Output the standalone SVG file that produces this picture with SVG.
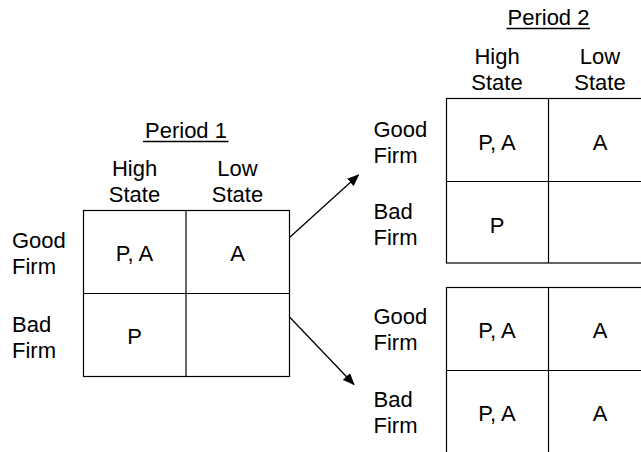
<svg xmlns="http://www.w3.org/2000/svg" width="641" height="452" viewBox="0 0 641 452">
<style>
text{font-family:"Liberation Sans",Arial,Helvetica,sans-serif;font-size:22px;fill:#000}
.c{text-anchor:middle}
.grid{fill:none;stroke:#000;stroke-width:1.2}
.ul{stroke:#000;stroke-width:1.3}
.arrow{stroke:#000;stroke-width:1.3;fill:none;marker-end:url(#ah)}
</style>
<defs>
<marker id="ah" viewBox="0 0 12 10" refX="11" refY="5" markerWidth="12" markerHeight="10" markerUnits="userSpaceOnUse" orient="auto">
<path d="M0,0 L12,5 L0,10 Z" fill="#000"/>
</marker>
</defs>
<rect width="641" height="452" fill="#fff"/>

<g id="period1">
<text class="c" x="186" y="138">Period 1</text>
<line class="ul" x1="143" y1="141.5" x2="228.5" y2="141.5"/>
<text class="c" x="134.5" y="176">High</text>
<text class="c" x="134.5" y="202">State</text>
<text class="c" x="237.5" y="176">Low</text>
<text class="c" x="237.5" y="202">State</text>
<text x="12" y="248">Good</text>
<text x="12" y="274">Firm</text>
<text x="12" y="331.5">Bad</text>
<text x="12" y="357.5">Firm</text>
<rect class="grid" x="83.5" y="210.5" width="206" height="166"/>
<line class="grid" x1="186" y1="210.5" x2="186" y2="376.5"/>
<line class="grid" x1="83.5" y1="293.5" x2="289.5" y2="293.5"/>
<text class="c" x="134.5" y="261">P, A</text>
<text class="c" x="237.5" y="261">A</text>
<text class="c" x="134.5" y="344">P</text>
</g>

<g id="period2-top">
<text class="c" x="548.5" y="25">Period 2</text>
<line class="ul" x1="506.5" y1="28.5" x2="590" y2="28.5"/>
<text class="c" x="497" y="63.5">High</text>
<text class="c" x="497" y="90">State</text>
<text class="c" x="600" y="63.5">Low</text>
<text class="c" x="600" y="90">State</text>
<text x="373.5" y="136.5">Good</text>
<text x="373.5" y="162.5">Firm</text>
<text x="373.5" y="219">Bad</text>
<text x="373.5" y="245">Firm</text>
<rect class="grid" x="446.5" y="98.5" width="206" height="164.5"/>
<line class="grid" x1="548.5" y1="98.5" x2="548.5" y2="263"/>
<line class="grid" x1="446.5" y1="181.5" x2="652.5" y2="181.5"/>
<text class="c" x="497" y="150">P, A</text>
<text class="c" x="600" y="150">A</text>
<text class="c" x="497" y="233">P</text>
</g>

<g id="period2-bottom">
<text x="373.5" y="324">Good</text>
<text x="373.5" y="350">Firm</text>
<text x="373.5" y="407">Bad</text>
<text x="373.5" y="433">Firm</text>
<rect class="grid" x="446.5" y="287.5" width="206" height="166"/>
<line class="grid" x1="548.5" y1="287.5" x2="548.5" y2="453.5"/>
<line class="grid" x1="446.5" y1="370.5" x2="652.5" y2="370.5"/>
<text class="c" x="497" y="337.5">P, A</text>
<text class="c" x="600" y="337.5">A</text>
<text class="c" x="497" y="420.5">P, A</text>
<text class="c" x="600" y="420.5">A</text>
</g>

<g id="connectors">
<line class="arrow" x1="289.5" y1="237.5" x2="358.5" y2="175"/>
<line class="arrow" x1="289.5" y1="317" x2="354" y2="384.5"/>
</g>
</svg>
